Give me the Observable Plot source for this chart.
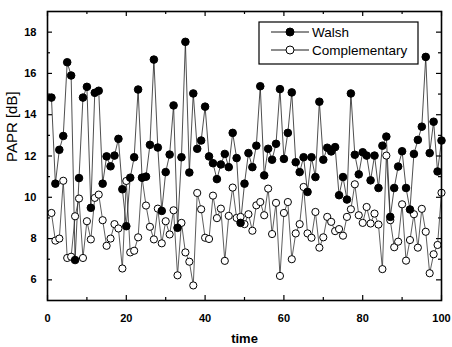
<!DOCTYPE html>
<html><head><meta charset="utf-8">
<script src="https://cdn.jsdelivr.net/npm/d3@7"></script>
<script src="https://cdn.jsdelivr.net/npm/@observablehq/plot@0.6"></script>
<style>body{margin:0;background:#fff}</style>
</head><body><div id="chart"></div>
<script>
const walsh = [14.83,10.66,12.3,12.97,16.54,15.9,6.96,10.93,14.83,15.35,
  9.49,15.06,15.16,10.66,11.98,11.5,12.02,12.83,10.39,8.6,
  10.95,11.94,15.22,10.95,11.0,12.54,16.67,12.41,9.34,11.22,
  12.07,14.45,8.52,11.94,17.53,11.2,15.03,12.35,12.75,14.39,
  11.98,11.65,10.88,11.59,12.1,11.46,13.12,11.9,8.76,10.66,
  12.14,11.46,12.5,15.38,11.06,12.35,11.82,12.59,15.24,11.86,
  13.12,15.08,11.7,11.22,11.94,10.26,11.94,10.98,14.63,11.82,
  12.4,12.22,12.43,10.1,10.98,9.89,15.03,12.06,11.11,12.18,
  12.02,10.82,12.02,10.45,12.5,12.94,9.05,10.45,11.49,12.23,
  10.45,9.41,12.1,12.78,13.42,16.8,12.14,13.66,11.25,12.75];
const complementary = [9.24,7.9,8.0,10.8,7.06,7.12,9.08,9.94,7.06,8.84,
  7.96,9.97,10.13,8.89,7.65,8.0,8.7,8.49,6.55,10.79,
  7.33,7.41,8.06,10.95,9.6,8.57,7.96,9.45,7.77,8.84,
  8.2,9.37,6.22,8.76,7.33,6.88,5.73,10.21,9.42,8.04,
  7.98,10.08,8.99,9.45,6.92,9.1,10.47,9.0,9.05,8.7,
  9.18,8.38,9.61,9.77,9.13,10.42,8.22,9.73,6.19,9.24,
  9.77,7.0,8.25,8.7,10.5,8.25,8.04,9.29,7.56,8.06,
  9.05,8.81,8.36,8.46,8.14,9.05,9.42,10.63,9.13,8.76,
  9.53,8.73,9.21,8.68,6.52,12.02,8.89,7.58,7.85,9.66,
  6.93,7.93,9.18,7.56,9.44,8.33,6.32,7.24,7.69,10.22];
const time = walsh.map((v, i) => i + 1);
const seriesNames = ["Walsh", "Complementary"];
const xMajor = [0, 20, 40, 60, 80, 100];
const xMinor = [10, 30, 50, 70, 90];
const yMajor = [6, 8, 10, 12, 14, 16, 18];
const yMinor = [7, 9, 11, 13, 15, 17];
const xLabel = "time";
const yLabel = "PAPR [dB]";

const W = 452, H = 347, mL = 47, mR = 11, mT = 11, mB = 47;
const pw = W - mL - mR, ph = H - mT - mB;
const wData = time.map((t, i) => ({t, v: walsh[i]}));
const cData = time.map((t, i) => ({t, v: complementary[i]}));
const FONT = "Liberation Sans, Arial, sans-serif";

const chart = Plot.plot({
  width: W, height: H,
  marginLeft: mL, marginRight: mR, marginTop: mT, marginBottom: mB,
  style: {fontFamily: FONT, color: "black", background: "white"},
  x: {domain: [0, 100]},
  y: {domain: [5, 19]},
  marks: [
    Plot.axisY(yMajor, {tickSize: 0, tickPadding: 11, fontSize: 11, fontWeight: "bold", label: null}),
    Plot.axisX(xMajor, {tickSize: 0, tickPadding: 14, fontSize: 11, fontWeight: "bold", label: null}),
    Plot.text([yLabel], {text: d => d, frameAnchor: "left", rotate: -90, dx: -35, dy: 6, fontSize: 15, fill: "black"}),
    Plot.text([xLabel], {text: d => d, frameAnchor: "bottom", dy: 42, fontSize: 13, fontWeight: "bold", fill: "black"}),
    // inward ticks
    Plot.ruleY(yMajor, {y: d => d, insetRight: pw - 5, stroke: "black", strokeWidth: 1.2}),
    Plot.ruleY(yMinor, {y: d => d, insetRight: pw - 3, stroke: "black", strokeWidth: 1.2}),
    Plot.ruleY(yMajor, {y: d => d, insetLeft: pw - 5, stroke: "black", strokeWidth: 1.2}),
    Plot.ruleY(yMinor, {y: d => d, insetLeft: pw - 3, stroke: "black", strokeWidth: 1.2}),
    Plot.ruleX(xMajor, {x: d => d, insetTop: ph - 5, stroke: "black", strokeWidth: 1.2}),
    Plot.ruleX(xMinor, {x: d => d, insetTop: ph - 3, stroke: "black", strokeWidth: 1.2}),
    Plot.ruleX(xMajor, {x: d => d, insetBottom: ph - 5, stroke: "black", strokeWidth: 1.2}),
    Plot.ruleX(xMinor, {x: d => d, insetBottom: ph - 3, stroke: "black", strokeWidth: 1.2}),
    Plot.line(cData, {x: "t", y: "v", stroke: "#333", strokeWidth: 0.8}),
    Plot.line(wData, {x: "t", y: "v", stroke: "#222", strokeWidth: 0.8}),
    Plot.dot(cData, {x: "t", y: "v", r: 3.6, fill: "white", stroke: "black", strokeWidth: 1}),
    Plot.dot(wData, {x: "t", y: "v", r: 3.8, fill: "black", stroke: "black", strokeWidth: 1}),
    Plot.frame({stroke: "black", strokeWidth: 1.6})
  ]
});
document.getElementById("chart").appendChild(chart);

// legend inside the plot
const svg = d3.select(chart);
const lg = svg.append("g").attr("font-family", FONT).attr("text-anchor", "start");
lg.append("rect").attr("x", 259).attr("y", 22).attr("width", 159).attr("height", 42)
  .attr("fill", "white").attr("stroke", "black").attr("stroke-width", 1.2);
seriesNames.forEach((name, i) => {
  const y = 32 + i * 18;
  lg.append("line").attr("x1", 271).attr("x2", 309).attr("y1", y).attr("y2", y)
    .attr("stroke", "black").attr("stroke-width", 0.9);
  lg.append("circle").attr("cx", 290).attr("cy", y).attr("r", 4)
    .attr("fill", i === 0 ? "black" : "white").attr("stroke", "black");
  lg.append("text").attr("x", 312).attr("y", y + 5).attr("font-size", 13.5)
    .attr("fill", "black").attr("text-anchor", "start").text(name);
});
</script></body></html>
